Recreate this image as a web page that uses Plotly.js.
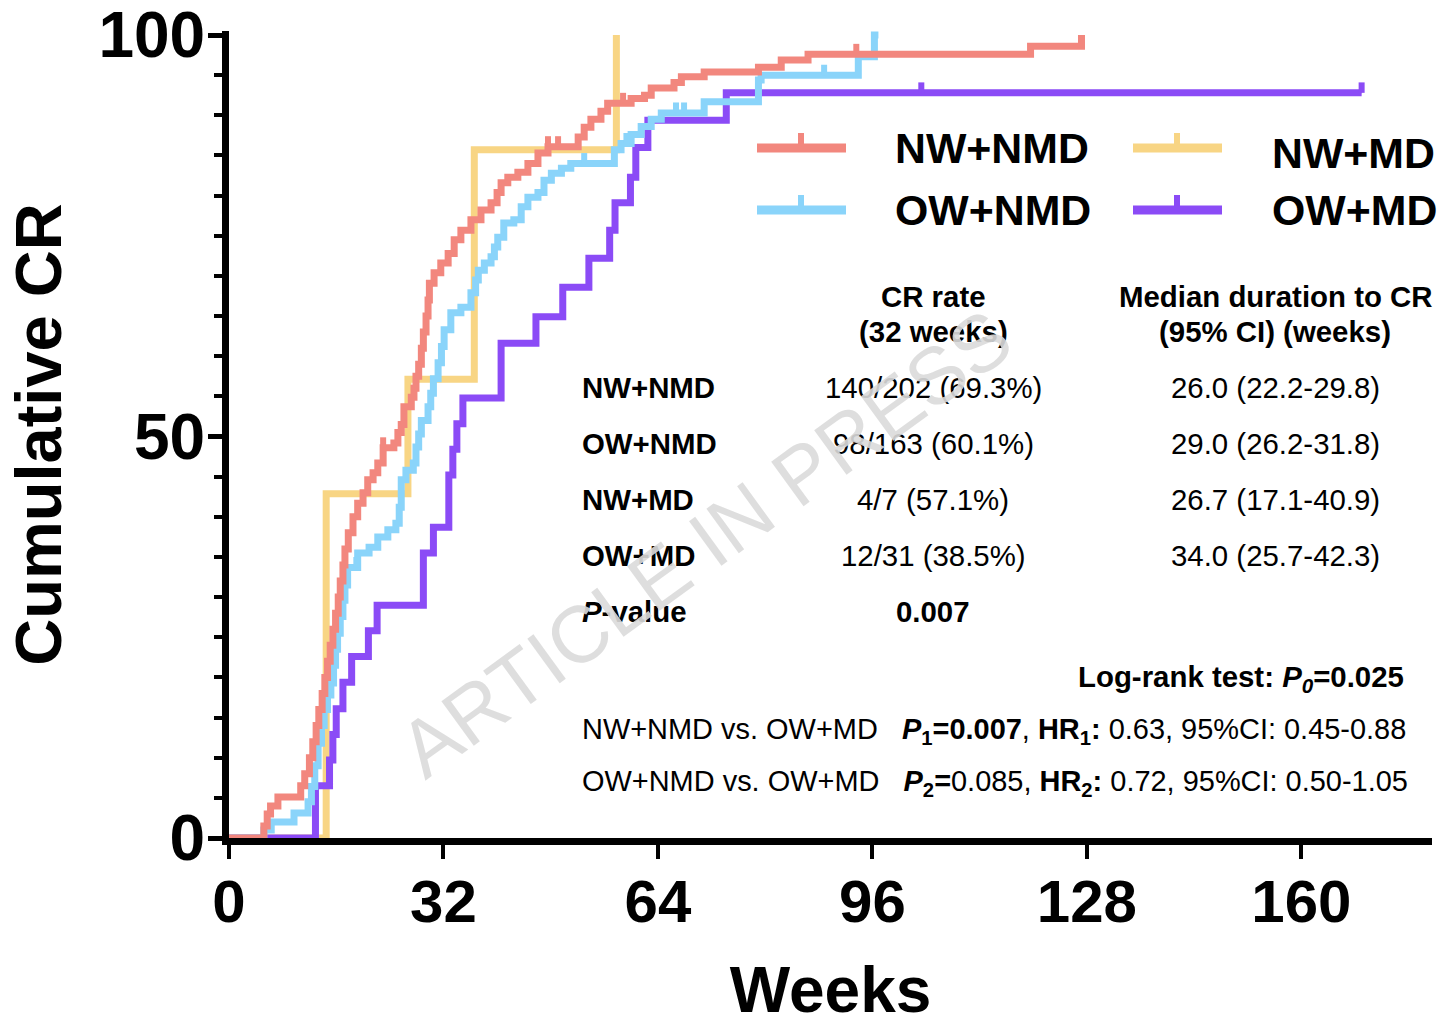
<!DOCTYPE html>
<html><head><meta charset="utf-8">
<script src="https://cdn.plot.ly/plotly-3.0.1.min.js"></script>
<style>html,body{margin:0;padding:0;background:#fff}#chart{width:1451px;height:1026px}</style>
</head><body><div id="chart"></div>
<script>
// ---------------- DATA ----------------
const groupNames = ['NW+NMD', 'OW+NMD', 'NW+MD', 'OW+MD'];

const nwnmdWeeks = [0, 5.2, 5.7, 6.2, 7.3, 10.7, 11.3, 12.0, 12.5, 13.0, 13.4, 13.9, 14.3, 14.7, 15.1, 15.5, 15.9, 16.3, 16.6, 17.0, 17.3, 17.8, 18.5, 19.2, 20.0, 20.7, 21.5, 22.2, 23.0, 24.6, 25.2, 25.7, 26.1, 27.2, 27.6, 27.9, 28.3, 28.7, 29.0, 29.4, 29.7, 29.9, 30.6, 31.6, 32.7, 33.6, 34.6, 36.1, 37.6, 39.1, 40.0, 40.6, 41.6, 43.1, 44.6, 46.1, 47.6, 52.1, 53.0, 54.0, 55.5, 56.5, 60.0, 62.0, 63.0, 66.4, 67.5, 70.9, 79.0, 82.4, 86.4, 119.6, 127.2];
const nwnmdCR    = [0, 1.5, 3, 4, 5.1, 6.5, 8, 10, 12, 14, 16, 18, 20, 22, 24, 26, 28, 30, 32, 34, 36, 38, 40, 41.7, 43, 44.6, 45.5, 46.7, 48.6, 49.2, 50.5, 51.5, 53.7, 54.9, 56, 57.5, 59, 61, 63, 65, 67, 69.1, 70.4, 71.6, 72.8, 74.5, 75.7, 77, 78.2, 79.1, 80.4, 81.6, 82.3, 82.9, 84, 85.3, 86.1, 87.3, 88.5, 89.5, 90.5, 91.5, 92.1, 92.5, 93.4, 94.1, 94.8, 95.4, 96.0, 96.9, 97.6, 98.6, 100];
const nwnmdEnd = 127.2;
const nwnmdCensor = [23.0, 47.6, 49.1, 58.8, 93.6];

const owNmdWeeks = [0, 5.2, 6.3, 9.7, 11.8, 12.3, 12.8, 13.3, 13.8, 14.2, 14.7, 15.2, 15.6, 15.9, 16.2, 16.6, 17.0, 17.3, 17.7, 19.2, 20.9, 22.2, 23.7, 24.9, 25.4, 25.7, 26.4, 27.5, 27.9, 28.3, 28.7, 29.7, 30.1, 30.5, 31.2, 31.7, 32.1, 33.1, 34.6, 36.1, 36.8, 37.2, 38.1, 39.1, 39.6, 40.1, 41.0, 42.5, 43.6, 44.6, 46.1, 47.0, 48.1, 49.6, 51.0, 57.5, 58.5, 60.0, 61.5, 63.0, 64.5, 70.9, 79.0, 79.4, 93.9, 96.3];
const owNmdCR    = [0, 1, 2, 3.1, 4.5, 6.4, 9, 11.8, 14, 16, 17.8, 19.3, 21.5, 23.5, 25.5, 27.6, 29.6, 31.5, 33.7, 35.5, 36.2, 37.5, 38.4, 39.2, 41.2, 44.6, 45.8, 46.7, 48.7, 50.3, 52, 53.7, 55.4, 57.2, 59.2, 61.2, 63.3, 65.4, 66.1, 67.9, 69.5, 70.7, 71.6, 72.4, 73.6, 74.8, 76.6, 77, 78.6, 79.8, 80.4, 81.9, 82.8, 83.4, 84, 85.7, 86.5, 87.6, 88.6, 89.5, 90.3, 91.7, 94.4, 95, 97.3, 100];
const owNmdEnd = 96.9;
const owNmdCensor = [19.0, 53.0, 59.3, 66.7, 67.9, 88.8];

const nwMdWeeks = [0, 14.5, 26.7, 36.6, 57.8];
const nwMdCR    = [0, 42.86, 57.14, 85.71, 100];
const nwMdEnd = 57.8;
const nwMdCensor = [];

const owMdWeeks = [0, 12.9, 15.0, 15.5, 16.0, 17.0, 18.3, 20.8, 22.1, 29.0, 30.5, 32.8, 33.4, 34.0, 34.9, 40.6, 45.8, 49.8, 53.7, 56.8, 57.6, 59.9, 60.7, 62.5, 74.2];
const owMdCR    = [0, 6.5, 9.7, 12.9, 16.1, 19.4, 22.6, 25.8, 29.0, 35.5, 38.7, 45.2, 48.4, 51.6, 54.8, 61.6, 64.9, 68.6, 72.2, 75.7, 79.1, 82.3, 86.0, 89.4, 92.8];
const owMdEnd = 169.0;
const owMdCensor = [103.3, 169.0];

const xTickVals = [0, 32, 64, 96, 128, 160];
const yTickVals = [0, 50, 100];

const tableHeaders = [['CR rate', '(32 weeks)'], ['Median duration to CR', '(95% CI) (weeks)']];
const tableRows = ['NW+NMD', 'OW+NMD', 'NW+MD', 'OW+MD', '<i>P</i>-value'];
const crRates = ['140/202 (69.3%)', '98/163 (60.1%)', '4/7 (57.1%)', '12/31 (38.5%)', '<b>0.007</b>'];
const medians = ['26.0 (22.2-29.8)', '29.0 (26.2-31.8)', '26.7 (17.1-40.9)', '34.0 (25.7-42.3)', ''];
const logRankText = '<b>Log-rank test: <i>P</i><sub><i>0</i></sub>=0.025</b>';
const compareTexts = [
  'NW+NMD vs. OW+MD\u00a0\u00a0\u00a0<b><i>P</i><sub>1</sub>=0.007</b>, <b>HR<sub>1</sub>:</b> 0.63, 95%CI: 0.45-0.88',
  'OW+NMD vs. OW+MD\u00a0\u00a0\u00a0<b><i>P</i><sub>2</sub>=</b>0.085, <b>HR<sub>2</sub>:</b> 0.72, 95%CI: 0.50-1.05'
];
const watermark = 'ARTICLE IN PRESS';

// ---------------- STYLE ----------------
const COLORS = {'NW+NMD': '#F2877E', 'OW+NMD': '#8AD4FA', 'NW+MD': '#F8D584', 'OW+MD': '#8B4BF6'};
const LINE_W = 7;
const CENSOR_H = 1.3;

function fontAvailable(name) {
  const ctx = document.createElement('canvas').getContext('2d');
  const s = 'NW+NMD OW+MD 140/202 (69.3%) Median duration';
  ctx.font = '40px monospace'; const a = ctx.measureText(s).width;
  ctx.font = '40px "' + name + '", monospace'; const b = ctx.measureText(s).width;
  return Math.abs(a - b) > 0.5;
}
const narrowOK = fontAvailable('Liberation Sans Narrow');
const NARROW = narrowOK ? '"Liberation Sans Narrow", "Arial Narrow", sans-serif' : '"Liberation Sans", Arial, sans-serif';
const NS = narrowOK ? 1 : 0.84;
const SANS = '"Liberation Sans", Arial, Helvetica, sans-serif';

// layout geometry in pixels
const M = {l: 229, r: 19, t: 31, b: 188};
const PW = 1451 - M.l - M.r, PH = 1026 - M.t - M.b;
const px = v => (v - M.l) / PW;
const py = v => (M.t + PH - v) / PH;

function stepAt(weeks, cr, t) {
  let v = 0;
  for (let i = 0; i < weeks.length; i++) if (weeks[i] <= t) v = cr[i];
  return v;
}

const groups = [
  {name: 'NW+MD', w: nwMdWeeks, c: nwMdCR, end: nwMdEnd, cens: nwMdCensor},
  {name: 'OW+MD', w: owMdWeeks, c: owMdCR, end: owMdEnd, cens: owMdCensor},
  {name: 'OW+NMD', w: owNmdWeeks, c: owNmdCR, end: owNmdEnd, cens: owNmdCensor},
  {name: 'NW+NMD', w: nwnmdWeeks, c: nwnmdCR, end: nwnmdEnd, cens: nwnmdCensor}
];

const traces = [];
groups.forEach(g => {
  const col = COLORS[g.name];
  traces.push({
    x: g.w.concat([g.end]), y: g.c.concat([g.c[g.c.length - 1]]),
    type: 'scatter', mode: 'lines', name: g.name, showlegend: false,
    line: {shape: 'hv', width: LINE_W, color: col}, hoverinfo: 'skip'
  });
  if (g.cens.length) {
    traces.push({
      x: g.cens, y: g.cens.map(t => stepAt(g.w, g.c, t)),
      type: 'scatter', mode: 'markers', showlegend: false, hoverinfo: 'skip',
      marker: {size: 1, color: col},
      error_y: {type: 'data', symmetric: false, array: g.cens.map(() => CENSOR_H),
                arrayminus: g.cens.map(() => 0), thickness: 6, width: 0, color: col}
    });
  }
});

// custom legend (2 columns)
const legendItems = [
  {name: 'NW+NMD', lx: 757, tx: 893, y: 148, ty: 148},
  {name: 'NW+MD', lx: 1133, tx: 1270, y: 148, ty: 153},
  {name: 'OW+NMD', lx: 757, tx: 893, y: 210, ty: 210},
  {name: 'OW+MD', lx: 1133, tx: 1270, y: 210, ty: 210}
];
const shapes = [];
const annotations = [];
const ann = (text, x, y, xanchor, size, extra) => annotations.push(Object.assign({
  text: text, xref: 'paper', yref: 'paper', x: px(x), y: py(y), xanchor: xanchor, yanchor: 'middle',
  showarrow: false, font: {family: NARROW, size: size, color: '#000'}}, extra || {}));

legendItems.forEach(it => {
  const col = COLORS[it.name];
  shapes.push({type: 'line', xref: 'paper', yref: 'paper', x0: px(it.lx), x1: px(it.lx + 89), y0: py(it.y), y1: py(it.y),
               line: {color: col, width: 9}});
  shapes.push({type: 'line', xref: 'paper', yref: 'paper', x0: px(it.lx + 44), x1: px(it.lx + 44), y0: py(it.y), y1: py(it.y - 15),
               line: {color: col, width: 6}});
  ann('<b>' + it.name + '</b>', it.tx, it.ty, 'left', 51 * NS);
});

// table
const colX = [933, 1275];
const headY = [296, 331];
const rowY = [387, 443, 499, 555, 611];
const TF = 35 * NS;
tableHeaders.forEach((h, i) => h.forEach((line, j) => ann('<b>' + line + '</b>', colX[i], headY[j], 'center', TF)));
tableRows.forEach((r, i) => {
  ann('<b>' + r + '</b>', 580, rowY[i], 'left', TF);
  ann(crRates[i], colX[0], rowY[i], 'center', TF);
  if (medians[i]) ann(medians[i], colX[1], rowY[i], 'center', TF);
});
ann(logRankText, 1406, 678, 'right', TF);
compareTexts.forEach((t, i) => ann(t, 580, [731, 783][i], 'left', TF * 0.985));

// watermark (drawn last, on top)
ann(watermark, 705, 543, 'center', 80, {textangle: -36, font: {family: SANS, size: 80, color: 'rgba(218,218,218,0.9)'}});

const layout = {
  width: 1451, height: 1026,
  margin: M,
  paper_bgcolor: '#fff', plot_bgcolor: '#fff',
  showlegend: false,
  xaxis: {
    range: [0, 179.5], tickvals: xTickVals, ticktext: xTickVals.map(String),
    showline: true, linewidth: 7, linecolor: '#000', mirror: false,
    ticks: 'outside', ticklen: 14, tickwidth: 4, tickcolor: '#000',
    ticklabelstandoff: -9, ticklabeloverflow: 'allow',
    showgrid: false, zeroline: false, layer: 'below traces',
    tickfont: {family: SANS, size: 60, weight: 'bold', color: '#000'},
    title: {text: 'Weeks', font: {family: SANS, size: 64, weight: 'bold', color: '#000'}, standoff: 45}
  },
  yaxis: {
    range: [0, 100.5], tickvals: yTickVals, ticktext: yTickVals.map(String),
    showline: true, linewidth: 7, linecolor: '#000',
    ticks: 'outside', ticklen: 14, tickwidth: 5, tickcolor: '#000',
    ticklabelstandoff: -10, ticklabeloverflow: 'allow',
    minor: {dtick: 5, tick0: 0, ticks: 'outside', ticklen: 8, tickwidth: 4, tickcolor: '#000', showgrid: false},
    showgrid: false, zeroline: false, layer: 'below traces',
    tickfont: {family: SANS, size: 64, weight: 'bold', color: '#000'},
    title: {text: 'Cumulative CR', font: {family: SANS, size: 65, weight: 'bold', color: '#000'}, standoff: 18}
  },
  shapes: shapes,
  annotations: annotations
};

Plotly.newPlot('chart', traces, layout, {displayModeBar: false, staticPlot: true});
</script>
</body></html>
